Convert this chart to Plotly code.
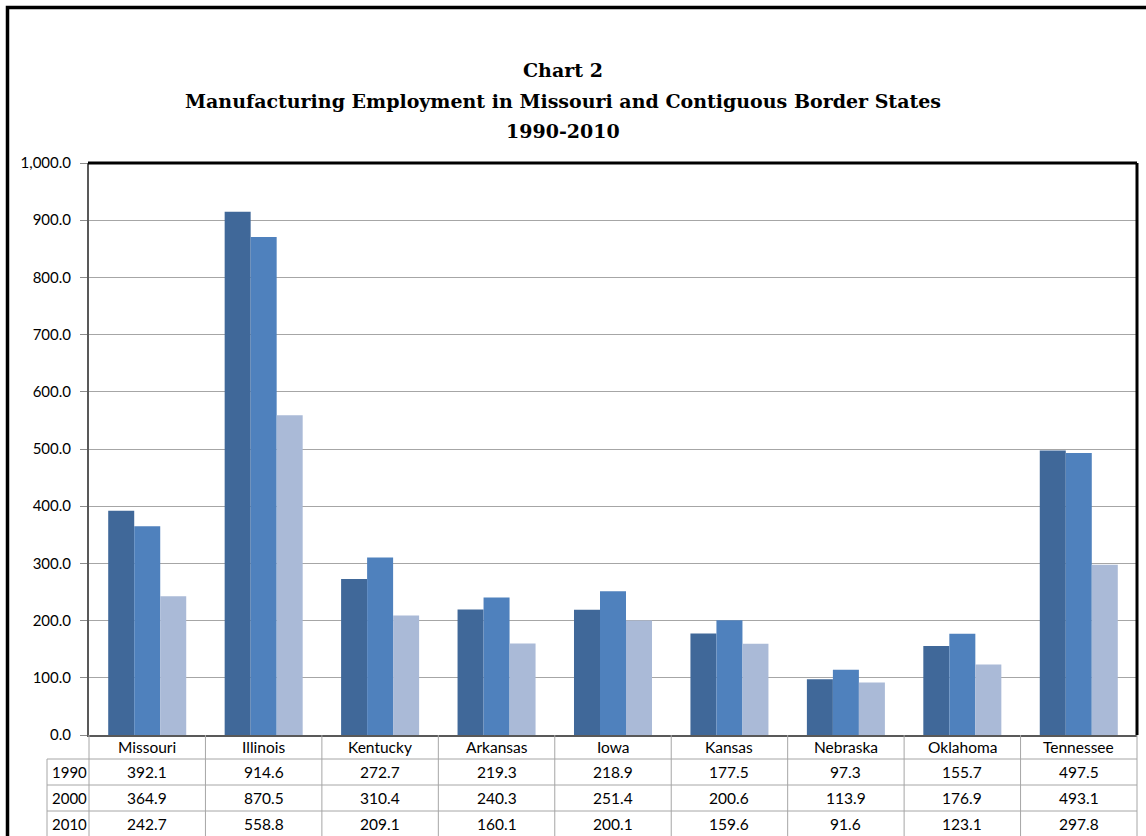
import plotly.graph_objects as go

states = ["Missouri", "Illinois", "Kentucky", "Arkansas", "Iowa", "Kansas",
          "Nebraska", "Oklahoma", "Tennessee"]
years = ["1990", "2000", "2010"]
v1990 = [392.1, 914.6, 272.7, 219.3, 218.9, 177.5, 97.3, 155.7, 497.5]
v2000 = [364.9, 870.5, 310.4, 240.3, 251.4, 200.6, 113.9, 176.9, 493.1]
v2010 = [242.7, 558.8, 209.1, 160.1, 200.1, 159.6, 91.6, 123.1, 297.8]
series = [v1990, v2000, v2010]
colors = ["#406899", "#4F81BD", "#AABAD7"]
yticks = [0, 100, 200, 300, 400, 500, 600, 700, 800, 900, 1000]

W, H = 1146, 836
L, R, T, B = 89, 1137, 163, 735  # plot area in pixels
PW, PH = R - L, B - T

def px(x):
    return (x - L) / PW

def py(y):
    return (B - y) / PH

TF = "Lato"
fig = go.Figure()
for name, vals, c in zip(years, series, colors):
    fig.add_trace(go.Bar(x=states, y=vals, name=name, marker_color=c,
                         marker_line_width=0))

shapes = []
# outer chart frame
shapes.append(dict(type="rect", xref="paper", yref="paper",
                   x0=px(7.5), x1=px(1160), y0=py(7.5), y1=py(860),
                   line=dict(color="black", width=3.5), layer="above"))
# plot area top & right borders
shapes.append(dict(type="line", xref="paper", yref="paper", x0=px(88), x1=1,
                   y0=1, y1=1, line=dict(color="black", width=3)))
shapes.append(dict(type="line", xref="paper", yref="paper", x0=1, x1=1,
                   y0=0, y1=1, line=dict(color="black", width=3)))

gc = "#A6A6A6"
bottom = py(850)
# table horizontal lines
for yy in [759, 785, 811]:
    shapes.append(dict(type="line", xref="paper", yref="paper", x0=px(47), x1=1,
                       y0=py(yy), y1=py(yy), line=dict(color=gc, width=1)))
# table vertical lines at category boundaries
n = len(states)
for j in range(n + 1):
    shapes.append(dict(type="line", xref="x domain", yref="paper", x0=j / n, x1=j / n,
                       y0=0, y1=bottom, line=dict(color=gc, width=1)))
shapes.append(dict(type="line", xref="paper", yref="paper", x0=px(47), x1=px(47),
                   y0=py(759), y1=bottom, line=dict(color=gc, width=1)))

annotations = []
# title lines
for txt, yy in [("Chart 2", 70),
                ("Manufacturing Employment in Missouri and Contiguous Border States", 101),
                ("1990-2010", 131)]:
    annotations.append(dict(text=f"<b>{txt}</b>", xref="paper", yref="paper",
                            x=px(563), y=py(yy), xanchor="center", yanchor="middle",
                            showarrow=False,
                            font=dict(family="DejaVu Serif", size=19, color="black")))
# header row (category names) inside the data table
for s in states:
    annotations.append(dict(text=s, xref="x", yref="paper", x=s, y=py(747),
                            xanchor="center", yanchor="middle", showarrow=False,
                            font=dict(family=TF, size=15.5, color="black")))
# table cells
row_y = [772, 798, 823.5]
for yr, vals, yy in zip(years, series, row_y):
    annotations.append(dict(text=yr, xref="paper", yref="paper", x=px(49.5), y=py(yy),
                            xanchor="left", yanchor="middle", showarrow=False,
                            font=dict(family=TF, size=15, color="black")))
    for s, v in zip(states, vals):
        annotations.append(dict(text=f"{v:.1f}", xref="x", yref="paper", x=s, y=py(yy),
                                xanchor="center", yanchor="middle", showarrow=False,
                                font=dict(family=TF, size=15.5, color="black")))

fig.update_layout(
    width=W, height=H,
    margin=dict(l=L, r=W - R, t=T, b=H - B, pad=0),
    paper_bgcolor="white", plot_bgcolor="white",
    barmode="group", bargap=0.33, bargroupgap=0,
    showlegend=False,
    shapes=shapes, annotations=annotations,
    xaxis=dict(showline=True, linecolor="#595959", linewidth=2,
               ticks="", showgrid=False, showticklabels=False,
               range=[-0.5, 8.5]),
    yaxis=dict(range=[0, 1000], tickvals=yticks, tickformat=",.1f",
               showline=True, linecolor="#595959", linewidth=2,
               ticks="outside", ticklen=7, tickcolor="#8C8C8C",
               ticklabelstandoff=6,
               showgrid=True, gridcolor=gc, gridwidth=1, zeroline=False,
               tickfont=dict(family=TF, size=15, color="black")),
)
fig.write_html("out.html")
